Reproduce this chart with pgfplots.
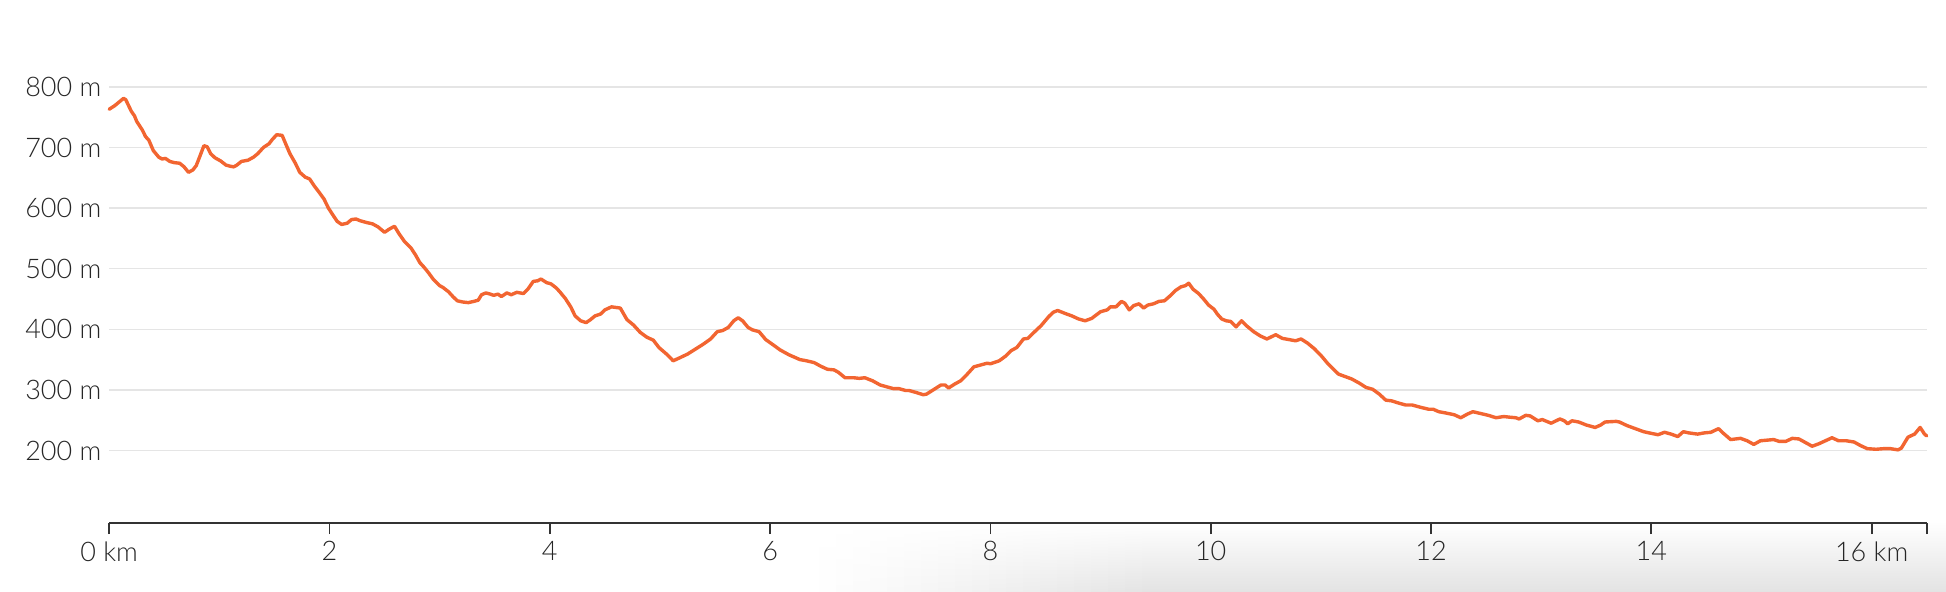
\documentclass[border=0pt]{standalone}
\usepackage{fontspec}
\setmainfont{Lato Light}
\usepackage{pgfplots}
\pgfplotsset{compat=1.18}
\definecolor{lineor}{RGB}{242,101,49}
\definecolor{labgray}{RGB}{38,38,38}
\definecolor{axgray}{RGB}{51,51,51}
\definecolor{gridgray}{RGB}{229,229,229}
\begin{document}
\begin{tikzpicture}
\useasboundingbox (-54.6pt,-34.4pt) rectangle (918.4pt,261.6pt);
% soft grey shadow at the bottom right of the screenshot
\foreach \i in {0,...,19} {
  \pgfmathsetmacro{\xa}{355+\i*8.5}
  \pgfmathsetmacro{\xb}{\xa+8.8}
  \pgfmathsetmacro{\pc}{0.55*(\i+1)}
  \shade[top color=white, bottom color=black!\pc] (\xa pt,1pt) rectangle (\xb pt,-34.4pt);
}
\shade[top color=white, bottom color=black!11] (524.5pt,1pt) rectangle (918.4pt,-34.4pt);
\begin{axis}[
  at={(0pt,0pt)}, anchor=south west,
  scale only axis,
  width=908.75pt, height=242.4pt,
  xmin=0, xmax=16.5, ymin=80, ymax=880,
  axis x line=bottom, axis y line=left,
  axis line style={-, draw=axgray, line width=0.9pt},
  y axis line style={draw=none},
  xtick={0,2,4,6,8,10,12,14,16,16.5},
  xticklabels={0 km,2,4,6,8,10,12,14,16 km,{}},
  ytick={200,300,400,500,600,700,800},
  yticklabels={200 m,300 m,400 m,500 m,600 m,700 m,800 m},
  tick align=outside,
  major tick length=5.5pt,
  x tick style={draw=axgray, line width=0.9pt},
  y tick style={draw=none},
  ymajorgrids,
  major grid style={draw=gridgray, line width=0.65pt},
  ticklabel style={font=\fontsize{13.5}{15}\selectfont, text=labgray},
  x tick label style={anchor=north, inner sep=0pt, yshift=-3.5pt},
  y tick label style={anchor=east, inner sep=0pt, xshift=5.5pt-3.75pt},
  clip=false,
]
\addplot[color=lineor, line width=1.7pt, line join=round, line cap=round] coordinates {
(0.00,763) (0.05,769) (0.09,775) (0.13,781) (0.15,779) (0.20,760) (0.23,752)
(0.25,743) (0.30,729) (0.33,718) (0.36,712) (0.40,695) (0.45,684) (0.48,681)
(0.51,682) (0.55,677) (0.59,675) (0.64,674) (0.68,668) (0.72,659) (0.76,663)
(0.79,670) (0.82,684) (0.86,703) (0.89,701) (0.92,690) (0.96,683) (1.01,678)
(1.06,671) (1.10,669) (1.13,668) (1.16,671) (1.20,677) (1.26,679) (1.31,684)
(1.35,690) (1.40,700) (1.45,706) (1.48,713) (1.52,721) (1.57,720) (1.60,707)
(1.64,690) (1.69,674) (1.73,659) (1.78,651) (1.82,648) (1.86,637) (1.91,625)
(1.95,615) (1.99,600) (2.04,586) (2.07,578) (2.11,573) (2.16,575) (2.20,581)
(2.24,582) (2.28,579) (2.34,576) (2.39,574) (2.44,569) (2.50,560) (2.54,565)
(2.59,570) (2.63,558) (2.68,545) (2.74,534) (2.78,523) (2.82,510) (2.86,502)
(2.90,493) (2.94,483) (3.00,472) (3.03,469) (3.08,462) (3.12,454) (3.16,447)
(3.21,445) (3.26,444) (3.31,446) (3.35,448) (3.38,457) (3.42,460) (3.46,458)
(3.49,456) (3.53,458) (3.56,454) (3.61,460) (3.65,457) (3.70,461) (3.76,459)
(3.80,466) (3.85,479) (3.89,480) (3.92,483) (3.97,477) (4.01,475) (4.06,468)
(4.09,462) (4.14,451) (4.19,437) (4.23,422) (4.28,414) (4.33,411) (4.37,416)
(4.41,422) (4.46,425) (4.50,432) (4.56,437) (4.64,435) (4.70,416) (4.76,407)
(4.82,395) (4.88,387) (4.94,382) (4.99,370) (5.06,359) (5.12,348) (5.18,353)
(5.25,359) (5.32,367) (5.39,375) (5.46,384) (5.52,396) (5.57,398) (5.62,403)
(5.67,414) (5.71,419) (5.75,414) (5.80,403) (5.84,399) (5.90,396) (5.96,383)
(6.03,374) (6.09,366) (6.17,358) (6.27,350) (6.33,348) (6.40,345) (6.46,339)
(6.52,334) (6.58,333) (6.62,329) (6.68,320) (6.76,320) (6.81,319) (6.86,320)
(6.93,315) (7.00,308) (7.06,305) (7.12,302) (7.17,302) (7.23,299) (7.26,299)
(7.32,296) (7.39,292) (7.42,293) (7.49,301) (7.55,308) (7.59,308) (7.62,303)
(7.67,309) (7.73,315) (7.79,326) (7.85,338) (7.91,341) (7.97,344) (8.00,343)
(8.08,348) (8.14,356) (8.19,365) (8.24,370) (8.30,384) (8.34,385) (8.39,394)
(8.46,406) (8.53,421) (8.57,428) (8.61,431) (8.68,426) (8.74,422) (8.80,417)
(8.86,414) (8.92,418) (9.00,429) (9.06,432) (9.09,437) (9.14,437) (9.19,446)
(9.22,443) (9.26,432) (9.30,439) (9.35,442) (9.39,435) (9.43,440) (9.48,442)
(9.53,446) (9.58,447) (9.63,455) (9.68,464) (9.73,470) (9.77,472) (9.80,476)
(9.84,466) (9.89,459) (9.94,449) (9.98,440) (10.03,433) (10.06,425) (10.10,417)
(10.14,414) (10.18,413) (10.23,404) (10.28,414) (10.33,405) (10.39,396) (10.45,389)
(10.51,384) (10.59,391) (10.65,385) (10.71,383) (10.77,381) (10.82,384) (10.88,377)
(10.94,368) (11.00,357) (11.06,344) (11.12,333) (11.16,326) (11.22,322) (11.28,318)
(11.35,311) (11.41,304) (11.47,301) (11.53,293) (11.59,283) (11.64,282) (11.71,278)
(11.77,275) (11.83,275) (11.91,271) (11.98,268) (12.02,268) (12.07,264) (12.13,262)
(12.21,259) (12.27,254) (12.33,260) (12.38,264) (12.45,261) (12.52,258) (12.59,254)
(12.66,256) (12.71,255) (12.77,254) (12.80,252) (12.86,258) (12.90,257) (12.97,249)
(13.01,251) (13.09,245) (13.17,252) (13.21,249) (13.24,244) (13.28,249) (13.34,247)
(13.41,242) (13.49,238) (13.54,242) (13.58,247) (13.68,248) (13.71,247) (13.78,241)
(13.84,237) (13.93,231) (13.98,229) (14.06,226) (14.12,230) (14.18,227) (14.24,223)
(14.29,231) (14.34,229) (14.42,227) (14.48,229) (14.54,230) (14.61,236) (14.65,229)
(14.72,218) (14.81,220) (14.87,216) (14.93,210) (14.99,216) (15.05,217) (15.11,218)
(15.16,215) (15.22,215) (15.28,220) (15.34,219) (15.40,213) (15.46,207) (15.52,211)
(15.58,216) (15.64,221) (15.70,216) (15.77,216) (15.84,214) (15.90,208) (15.96,203)
(16.04,202) (16.11,203) (16.17,203) (16.24,201) (16.27,204) (16.33,222) (16.39,227)
(16.44,238) (16.48,227) (16.50,224)
};
\end{axis}
\end{tikzpicture}
\end{document}
